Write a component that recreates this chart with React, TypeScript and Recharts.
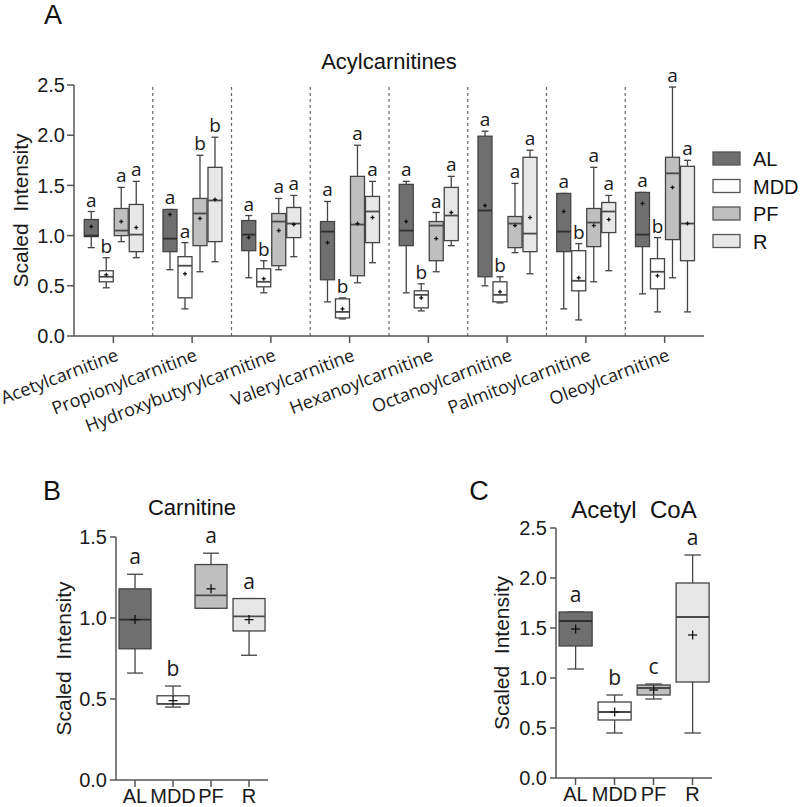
import React from 'react';
import { ComposedChart, Bar, XAxis, YAxis, ReferenceLine, Label } from 'recharts';

const FONT = "'Liberation Sans', Arial, sans-serif";
const SOFT_FONT = "'Open Sans', 'Noto Sans', sans-serif";

const groups = ['AL', 'MDD', 'PF', 'R'];
const groupFills = ['#6f6f6f', '#ffffff', '#bfbfbf', '#e7e7e7'];

const acylNames = [
  'Acetylcarnitine',
  'Propionylcarnitine',
  'Hydroxybutyrylcarnitine',
  'Valerylcarnitine',
  'Hexanoylcarnitine',
  'Octanoylcarnitine',
  'Palmitoylcarnitine',
  'Oleoylcarnitine',
];

// each row: [whisker low, Q1, median, Q3, whisker high, mean]
const acylAL = [
  [0.88, 0.99, 1.0, 1.16, 1.24, 1.09],
  [0.66, 0.84, 0.97, 1.26, 1.26, 1.21],
  [0.58, 0.85, 1.01, 1.15, 1.2, 0.98],
  [0.34, 0.56, 1.04, 1.14, 1.34, 0.93],
  [0.43, 0.9, 1.05, 1.51, 1.54, 1.14],
  [0.5, 0.59, 1.25, 1.99, 2.04, 1.3],
  [0.27, 0.84, 1.04, 1.42, 1.42, 1.24],
  [0.42, 0.89, 1.01, 1.43, 1.43, 1.32],
];
const acylMDD = [
  [0.48, 0.54, 0.59, 0.65, 0.78, 0.61],
  [0.27, 0.38, 0.7, 0.79, 0.93, 0.62],
  [0.43, 0.49, 0.54, 0.67, 0.75, 0.57],
  [0.17, 0.18, 0.24, 0.37, 0.38, 0.27],
  [0.25, 0.28, 0.41, 0.45, 0.52, 0.38],
  [0.33, 0.34, 0.41, 0.54, 0.59, 0.44],
  [0.16, 0.45, 0.55, 0.85, 0.92, 0.58],
  [0.24, 0.47, 0.64, 0.77, 0.98, 0.6],
];
const acylPF = [
  [0.94, 1.0, 1.05, 1.27, 1.48, 1.14],
  [0.64, 0.9, 1.22, 1.37, 1.8, 1.17],
  [0.66, 0.7, 1.14, 1.22, 1.37, 1.05],
  [0.53, 0.6, 1.11, 1.59, 1.9, 1.12],
  [0.64, 0.75, 1.1, 1.14, 1.23, 0.97],
  [0.83, 0.88, 1.12, 1.19, 1.52, 1.1],
  [0.54, 0.89, 1.13, 1.27, 1.68, 1.1],
  [0.58, 0.96, 1.62, 1.78, 2.48, 1.48],
];
const acylR = [
  [0.78, 0.84, 1.01, 1.31, 1.54, 1.08],
  [0.74, 0.94, 1.35, 1.68, 1.98, 1.36],
  [0.79, 0.98, 1.12, 1.28, 1.4, 1.11],
  [0.73, 0.93, 1.24, 1.39, 1.54, 1.18],
  [0.9, 0.95, 1.2, 1.48, 1.59, 1.23],
  [0.62, 0.84, 1.02, 1.78, 1.85, 1.18],
  [0.65, 1.03, 1.24, 1.33, 1.4, 1.16],
  [0.24, 0.75, 1.12, 1.69, 1.75, 1.12],
];
const acylALSig = ['a', 'a', 'a', 'a', 'a', 'a', 'a', 'a'];
const acylMDDSig = ['b', 'a', 'b', 'b', 'b', 'b', 'b', 'b'];
const acylPFSig = ['a', 'b', 'a', 'a', 'a', 'a', 'a', 'a'];
const acylRSig = ['a', 'b', 'a', 'a', 'a', 'a', 'a', 'a'];
const acylTicks = [0, 0.5, 1, 1.5, 2, 2.5];

const carnitineStats = [
  [0.66, 0.81, 0.99, 1.18, 1.27, 0.99],
  [0.45, 0.47, 0.47, 0.52, 0.58, 0.49],
  [1.06, 1.06, 1.14, 1.33, 1.4, 1.18],
  [0.77, 0.92, 1.01, 1.12, 1.12, 0.99],
];
const carnitineSig = ['a', 'b', 'a', 'a'];
const carnitineTicks = [0, 0.5, 1, 1.5];

const acetylCoaStats = [
  [1.09, 1.32, 1.57, 1.66, 1.66, 1.49],
  [0.45, 0.58, 0.66, 0.76, 0.83, 0.66],
  [0.79, 0.83, 0.9, 0.93, 0.94, 0.88],
  [0.45, 0.96, 1.61, 1.95, 2.23, 1.43],
];
const acetylCoaSig = ['a', 'b', 'c', 'a'];
const acetylCoaTicks = [0, 0.5, 1, 1.5, 2, 2.5];

const acylStats: Record<string, number[][]> = { AL: acylAL, MDD: acylMDD, PF: acylPF, R: acylR };
const acylSig: Record<string, string[]> = { AL: acylALSig, MDD: acylMDDSig, PF: acylPFSig, R: acylRSig };

const acylData = acylNames.map((name, i) => {
  const row: any = { name };
  groups.forEach((g) => {
    row[g] = acylStats[g][i];
    row[g + 'Sig'] = acylSig[g][i];
  });
  return row;
});

const carnitineData = groups.map((name, i) => ({ name, stats: carnitineStats[i], sig: carnitineSig[i] }));
const acetylCoaData = groups.map((name, i) => ({ name, stats: acetylCoaStats[i], sig: acetylCoaSig[i] }));

interface BoxOpts {
  getStats: (p: any) => number[];
  getSig: (p: any) => string;
  getFill: (index: number) => string;
  plus: number;
  gap: number;
  letterSize: number;
}

// draws one box plot inside the range bar [whisker low, whisker high]
const makeBox = (o: BoxOpts) => (props: any) => {
  const { x, y, width, height, payload, index } = props;
  const s = o.getStats(payload);
  if (!s) return <g />;
  const top = Math.min(y, y + height);
  const h = Math.abs(height);
  const span = s[4] - s[0];
  const py = (v: number) => top + (span ? (h * (s[4] - v)) / span : 0);
  const cx = x + width / 2;
  const half = width / 4;
  const fill = o.getFill(index);
  const line = '#444';
  const median = fill === '#6f6f6f' ? '#2e2e2e' : '#4a4a4a';
  return (
    <g>
      <line x1={cx} x2={cx} y1={py(s[4])} y2={py(s[3])} stroke={line} strokeWidth={1.3} />
      <line x1={cx} x2={cx} y1={py(s[1])} y2={py(s[0])} stroke={line} strokeWidth={1.3} />
      <line x1={cx - half} x2={cx + half} y1={py(s[4])} y2={py(s[4])} stroke={line} strokeWidth={1.3} />
      <line x1={cx - half} x2={cx + half} y1={py(s[0])} y2={py(s[0])} stroke={line} strokeWidth={1.3} />
      <rect x={x} y={py(s[3])} width={width} height={Math.max(0.5, py(s[1]) - py(s[3]))} fill={fill} stroke={line} strokeWidth={1.3} />
      <line x1={x} x2={x + width} y1={py(s[2])} y2={py(s[2])} stroke={median} strokeWidth={1.8} />
      <line x1={cx - o.plus} x2={cx + o.plus} y1={py(s[5])} y2={py(s[5])} stroke="#111" strokeWidth={1.3} />
      <line x1={cx} x2={cx} y1={py(s[5]) - o.plus} y2={py(s[5]) + o.plus} stroke="#111" strokeWidth={1.3} />
      <text x={cx} y={py(s[4]) - o.gap} textAnchor="middle" fontSize={o.letterSize} fontFamily={SOFT_FONT} fill="#1a1a1a">
        {o.getSig(payload)}
      </text>
    </g>
  );
};

const yLabel = (dx: number, size: number) => (props: any) => {
  const { x, y, height } = props.viewBox;
  const cx = x + dx;
  const cy = y + height / 2;
  return (
    <text
      x={cx}
      y={cy}
      transform={`rotate(-90 ${cx} ${cy})`}
      textAnchor="middle"
      dominantBaseline="central"
      fontSize={size}
      fontFamily={FONT}
      fill="#1a1a1a"
      style={{ whiteSpace: 'pre' }}
    >
      {'Scaled  Intensity'}
    </text>
  );
};

const AcylTick = (props: any) => {
  const { x, y, payload } = props;
  return (
    <g transform={`translate(${x + 6},${y + 15}) rotate(-21)`}>
      <text textAnchor="end" fontSize={18} fontFamily={SOFT_FONT} fill="#1a1a1a">
        {payload.value}
      </text>
    </g>
  );
};

const axisStyle = { stroke: '#555', strokeWidth: 1.5 };
const tickFmt = (v: number) => v.toFixed(1);

const SmallPanel = ({ data, ticks, domainMax, width, height, margin, yWidth, xHeight, labelDx }: any) => (
  <ComposedChart width={width} height={height} data={data} margin={margin} barCategoryGap="8%">
    <XAxis
      dataKey="name"
      height={xHeight}
      tickSize={7}
      axisLine={axisStyle}
      tickLine={axisStyle}
      interval={0}
      tick={{ fontSize: 20, fill: '#1a1a1a', fontFamily: FONT }}
    />
    <YAxis
      width={yWidth}
      domain={[0, domainMax]}
      ticks={ticks}
      tickFormatter={tickFmt}
      tickSize={6}
      tickMargin={3}
      axisLine={axisStyle}
      tickLine={axisStyle}
      tick={{ fontSize: 20, fill: '#1a1a1a', fontFamily: FONT }}
    >
      <Label content={yLabel(labelDx, 21)} />
    </YAxis>
    <Bar
      dataKey={(d: any) => [d.stats[0], d.stats[4]]}
      isAnimationActive={false}
      shape={makeBox({
        getStats: (p) => p.stats,
        getSig: (p) => p.sig,
        getFill: (i) => groupFills[i],
        plus: 4.5,
        gap: 10,
        letterSize: 21,
      })}
    />
  </ComposedChart>
);

export default function App() {
  return (
    <div style={{ position: 'absolute', left: 0, top: 0, width: 800, height: 807, background: '#fff', overflow: 'hidden' }}>
      <div style={{ position: 'absolute', left: 0, top: 0 }}>
        <ComposedChart
          width={800}
          height={470}
          data={acylData}
          margin={{ top: 85, right: 96, bottom: 0, left: 0 }}
          barCategoryGap="13%"
          barGap={1}
        >
          <XAxis
            dataKey="name"
            height={134}
            tickSize={7}
            axisLine={axisStyle}
            tickLine={axisStyle}
            interval={0}
            tick={<AcylTick />}
          />
          <YAxis
            width={74}
            domain={[0, 2.5]}
            ticks={acylTicks}
            tickFormatter={tickFmt}
            tickSize={7}
            tickMargin={2}
            axisLine={axisStyle}
            tickLine={axisStyle}
            tick={{ fontSize: 20, fill: '#1a1a1a', fontFamily: FONT }}
          >
            <Label content={yLabel(20, 21)} />
          </YAxis>
          {acylNames.slice(1).map((n) => (
            <ReferenceLine key={n} x={n} position="start" stroke="#666" strokeWidth={1.2} strokeDasharray="3 3" />
          ))}
          {groups.map((g, gi) => (
            <Bar
              key={g}
              dataKey={(d: any) => [d[g][0], d[g][4]]}
              isAnimationActive={false}
              shape={makeBox({
                getStats: (p) => p[g],
                getSig: (p) => p[g + 'Sig'],
                getFill: () => groupFills[gi],
                plus: 2,
                gap: 5,
                letterSize: 19,
              })}
            />
          ))}
        </ComposedChart>
      </div>

      <div style={{ position: 'absolute', left: 0, top: 480 }}>
        <SmallPanel
          data={carnitineData}
          ticks={carnitineTicks}
          domainMax={1.5}
          width={400}
          height={327}
          margin={{ top: 57, right: 132, bottom: 0, left: 0 }}
          yWidth={116}
          xHeight={27}
          labelDx={63}
        />
      </div>

      <div style={{ position: 'absolute', left: 400, top: 480 }}>
        <SmallPanel
          data={acetylCoaData}
          ticks={acetylCoaTicks}
          domainMax={2.5}
          width={400}
          height={327}
          margin={{ top: 48, right: 88, bottom: 0, left: 0 }}
          yWidth={156}
          xHeight={29}
          labelDx={101}
        />
      </div>

      <svg width={800} height={807} style={{ position: 'absolute', left: 0, top: 0, pointerEvents: 'none' }}>
        <g fontFamily={FONT} fill="#111">
          <text x={53} y={24} fontSize={27} textAnchor="middle">A</text>
          <text x={389} y={69} fontSize={22} textAnchor="middle">Acylcarnitines</text>
          <text x={52} y={500} fontSize={27} textAnchor="middle">B</text>
          <text x={192} y={515} fontSize={22} textAnchor="middle">Carnitine</text>
          <text x={479} y={500} fontSize={27} textAnchor="middle">C</text>
          <text x={634} y={518} fontSize={24} textAnchor="middle" style={{ whiteSpace: 'pre' }}>{'Acetyl  CoA'}</text>
        </g>
        {groups.map((g, i) => (
          <g key={g}>
            <rect x={713} y={152 + i * 27.5} width={27} height={13} fill={groupFills[i]} stroke="#555" strokeWidth={1.3} />
            <text x={753} y={166 + i * 27.5} fontSize={20} fontFamily={FONT} fill="#111">{g}</text>
          </g>
        ))}
      </svg>
    </div>
  );
}
